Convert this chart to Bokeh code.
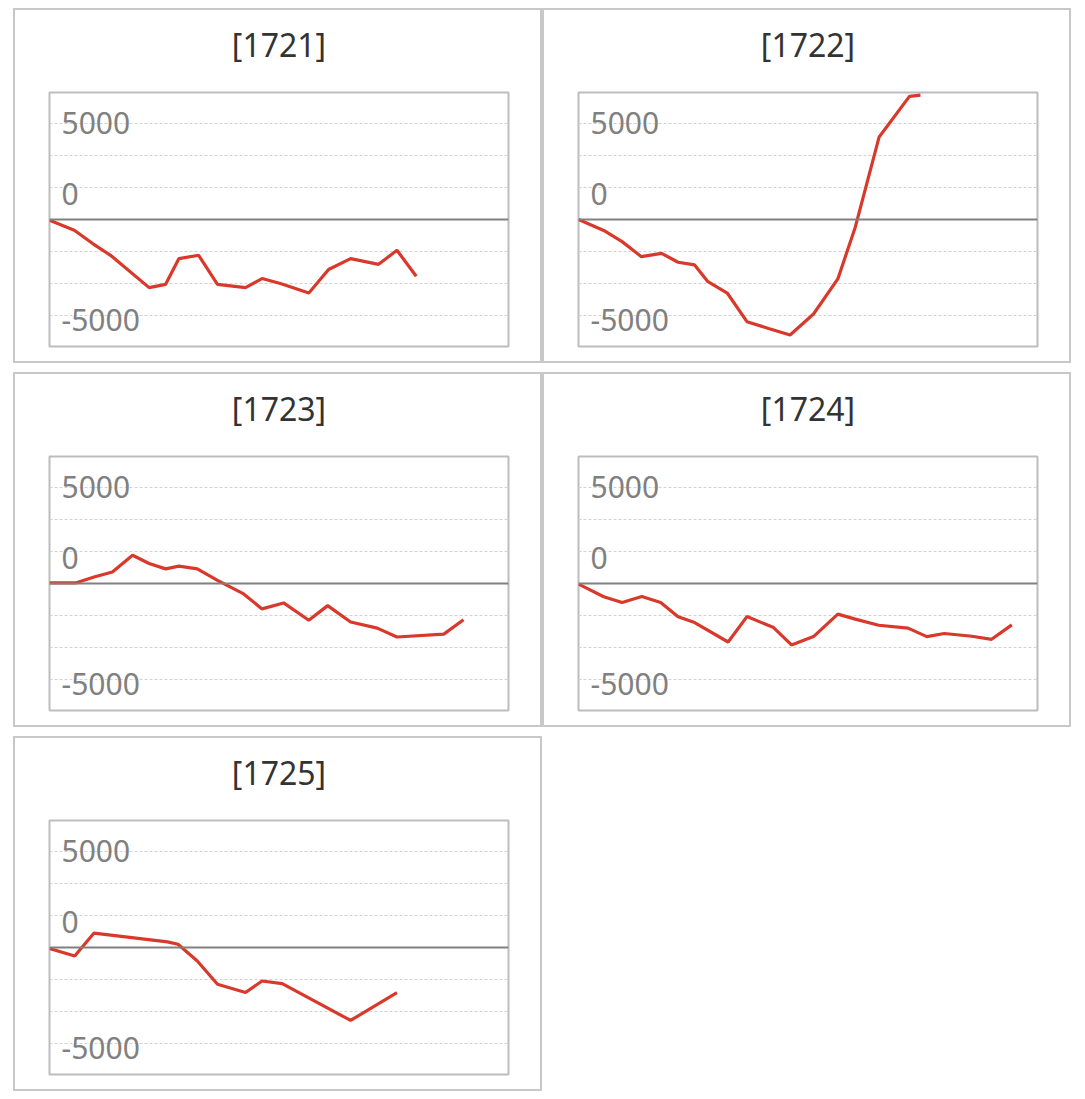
from bokeh.plotting import figure
from bokeh.models import Range1d, Span, Grid, FixedTicker, ColumnDataSource
from bokeh.layouts import column, row
from bokeh.embed import file_html
from bokeh.resources import INLINE
from bokeh.core.properties import value

# ---------------- data ----------------
panel_titles = ["[1721]", "[1722]", "[1723]", "[1724]", "[1725]"]

x_1721 = [0, 5.4, 9.4, 13.3, 21.7, 25.3, 28.2, 32.5, 36.6, 42.7, 46.3, 50.3, 56.5, 60.8, 65.6, 71.7, 75.7, 79.9]
y_1721 = [-40, -560, -1250, -1860, -3540, -3370, -2030, -1860, -3370, -3540, -3070, -3330, -3820, -2600, -2030, -2330, -1600, -2950]

x_1722 = [0, 5.5, 9.5, 13.7, 18.1, 21.7, 25.3, 28.2, 32.4, 36.7, 41.4, 46.1, 51.2, 56.5, 60.3, 65.5, 72.1, 74.5]
y_1722 = [0, -570, -1150, -1930, -1760, -2220, -2360, -3230, -3820, -5310, -5660, -6000, -4910, -3090, -400, 4290, 6400, 6460]

x_1723 = [0, 5.7, 9.7, 13.7, 18.1, 21.7, 25.3, 28.2, 32.2, 36.6, 42.3, 46.3, 51.0, 56.5, 60.6, 65.6, 71.4, 75.7, 85.9, 90.2]
y_1723 = [30, 30, 340, 600, 1470, 1040, 760, 900, 760, 160, -540, -1320, -1010, -1910, -1150, -2000, -2320, -2780, -2630, -1880]

x_1724 = [0, 5.5, 9.5, 13.8, 17.9, 21.7, 25.3, 32.6, 36.7, 42.5, 46.4, 51.2, 56.5, 60.3, 65.4, 71.8, 75.9, 79.7, 85.7, 90.0, 94.4]
y_1724 = [-30, -690, -990, -680, -990, -1730, -2030, -3040, -1720, -2290, -3190, -2760, -1590, -1850, -2170, -2320, -2760, -2600, -2740, -2900, -2150]

x_1725 = [0, 5.5, 9.7, 25.7, 28.0, 32.2, 36.6, 42.7, 46.3, 50.7, 65.6, 75.7]
y_1725 = [-50, -440, 750, 290, 170, -700, -1910, -2340, -1740, -1880, -3790, -2340]

grid_ticks = [-5000, -3333.33, -1666.67, 1666.67, 3333.33, 5000]
label_ticks = [5000, 1666.67, -5000]
label_texts = ["5000", "0", "-5000"]

series = [(x_1721, y_1721), (x_1722, y_1722), (x_1723, y_1723), (x_1724, y_1724), (x_1725, y_1725)]

# ---------------- style ----------------
FONT = "Noto Sans"
LINE_RED = "#d9392b"
PANEL_W, PANEL_H = 529, 355
label_dy = [0, 6.5, 4.5]


def make_panel(title, xs, ys):
    p = figure(width=PANEL_W, height=PANEL_H,
               x_range=Range1d(0, 100), y_range=Range1d(-6600, 6600),
               x_axis_type=None, y_axis_type=None,
               toolbar_location=None, output_backend="svg",
               min_border_left=36, min_border_right=34,
               min_border_top=84, min_border_bottom=17)
    p.outline_line_color = "#bdbdbd"
    p.outline_line_width = 2
    p.background_fill_color = "white"
    # transparent canvas border so that the host's panel frame shows through
    p.border_fill_color = None
    p.styles = {"background-color": "white",
                "box-shadow": "inset 0 0 0 2px #c8c8c8"}

    p.add_layout(Grid(dimension=1, ticker=FixedTicker(ticks=grid_ticks),
                      grid_line_color="#d2d2d2", grid_line_dash="3 2",
                      grid_line_width=1))
    p.add_layout(Span(location=0, dimension="width",
                      line_color="#808080", line_width=2))

    p.line(xs, ys, line_color=LINE_RED, line_width=3.2)

    lab = ColumnDataSource(dict(x=[0] * len(label_ticks), y=label_ticks,
                                text=label_texts, dy=label_dy))
    p.text(x="x", y="y", text="text", source=lab, x_offset=12, y_offset="dy",
           text_font=value(FONT), text_font_size="30px", text_color="#808080",
           text_align="left", text_baseline="middle")

    ttl = ColumnDataSource(dict(x=[50], y=[6600], text=[title]))
    p.text(x="x", y="y", text="text", source=ttl, y_offset=-48,
           text_font=value(FONT), text_font_size="32px", text_color="#333333",
           text_align="center", text_baseline="middle", level="overlay")
    return p


panels = [make_panel(t, xs, ys) for t, (xs, ys) in zip(panel_titles, series)]

layout = column(row(panels[0], panels[1]),
                row(panels[2], panels[3]),
                row(panels[4]),
                spacing=9, margin=(8, 0, 0, 13))

open("out.html", "w").write(file_html(layout, INLINE))
